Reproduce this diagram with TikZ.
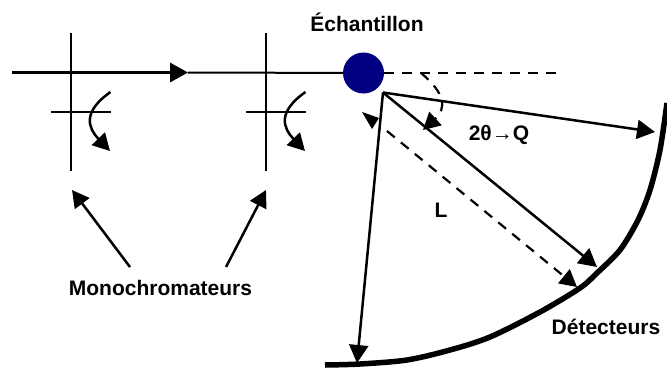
\documentclass[tikz,border=0pt]{standalone}
\usepackage{fontspec}
\setmainfont{Liberation Sans}
\usetikzlibrary{arrows.meta}
\tikzset{
  x=1pt,y=-1pt,
  thinln/.style={line width=2pt,black},
  medln/.style={line width=2.5pt,black},
  bigtip/.style={-{Triangle[length=18pt,width=19pt]}},
  smalltip/.style={-{Triangle[length=17pt,width=18pt]}},
  dashln/.style={line width=2.2pt,dash pattern=on 10pt off 8pt},
  lab/.style={font=\bfseries\fontsize{21}{24}\selectfont,inner sep=0pt,black,anchor=base},
}
\definecolor{sampleblue}{RGB}{0,0,128}
\begin{document}
\begin{tikzpicture}
\useasboundingbox (0,0) rectangle (667,367);
\coordinate (beamS) at (12,72.5);
\coordinate (beamM) at (188,72.5);
\node[circle,fill=sampleblue,minimum size=41pt,inner sep=0pt] (ech) at (363.5,73) {};
\draw[thinln] (beamM) -- (ech);
\draw[line width=3.2pt,bigtip] (beamS) -- (beamM);
% monochromators
\coordinate (m1t) at (71,33); \coordinate (m1b) at (71,171);
\coordinate (m1l) at (51,112); \coordinate (m1r) at (111,112);
\coordinate (m2t) at (266,33); \coordinate (m2b) at (266,171);
\coordinate (m2l) at (246,112); \coordinate (m2r) at (306,112);
\draw[thinln] (m1t) -- (m1b); \draw[thinln] (m1l) -- (m1r);
\draw[thinln] (m2t) -- (m2b); \draw[thinln] (m2l) -- (m2r);
\coordinate (c1s) at (110.5,92); \coordinate (c1e) at (110,151);
\coordinate (c2s) at (305.5,92); \coordinate (c2e) at (305,151);
\draw[medln,smalltip] (c1s) .. controls (82,112) and (88,128) .. (c1e);
\draw[medln,smalltip] (c2s) .. controls (277,112) and (283,128) .. (c2e);
% labels
\node[lab] (mono) at (160.5,295) {Monochromateurs};
\node[lab] (echl) at (367,31) {Échantillon};
\node[lab] (angle) at (499,140) {2θ→Q};
\node[lab] (ll) at (441,217) {L};
\node[lab] (det) at (606,334) {Détecteurs};
\coordinate (a1s) at (130,267); \coordinate (a1e) at (72,190);
\coordinate (a2s) at (226,267); \coordinate (a2e) at (266,190);
\draw[medln,smalltip] (a1s) -- (a1e);
\draw[medln,smalltip] (a2s) -- (a2e);
% sample geometry
\coordinate (dend) at (558,73);
\draw[dashln] (ech.east) -- (dend);
\coordinate (o) at (383,92.5);
\coordinate (t1) at (655,132);
\coordinate (t2) at (597,267);
\coordinate (t3) at (577,287);
\coordinate (t3s) at (387,131);
\coordinate (t4) at (357,363);
\draw[medln,bigtip] (o) -- (t1);
\draw[medln,bigtip] (o) -- (t2);
\draw[medln,bigtip] (o) -- (t4);
\draw[dashln,smalltip] (t3s) -- (t3);
\coordinate (as) at (421,73);
\coordinate (ae) at (423,130);
\draw[dashln,smalltip] (as) .. controls (445,93) and (447,108) .. (ae);
\fill (362,112) -- (379,118) -- (372,129) -- cycle;
% detector
\draw[line width=5.5pt] plot[smooth,tension=0.5] coordinates {(325,365) (360,364) (407,360) (450,350) (490,337) (540,312) (580,288) (597,273) (620,250) (638,220) (650,190) (660,150) (667,103)};
\end{tikzpicture}
\end{document}
